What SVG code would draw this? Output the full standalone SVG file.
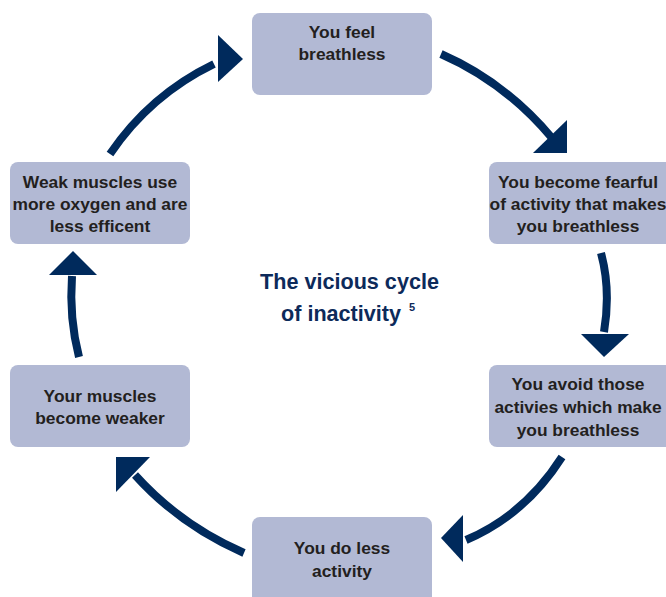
<svg xmlns="http://www.w3.org/2000/svg" width="666" height="597" viewBox="0 0 666 597">
<style>
.box{fill:#b2b9d4;}
.t{font-family:"Liberation Sans",Arial,sans-serif;font-weight:bold;font-size:17.4px;fill:#231f20;text-anchor:middle;}
.ttl{font-family:"Liberation Sans",Arial,sans-serif;font-weight:bold;font-size:21.6px;fill:#0d2a5a;text-anchor:middle;}
.c{fill:none;stroke:#002a5c;stroke-width:8;}
.h{fill:#002a5c;}
</style>
<rect width="666" height="597" fill="#ffffff"/>
<g id="connectors">
<path class="c" d="M110,154 Q150,95 214,64"/>
<polygon class="h" points="218,35 218,82 243,59"/>
<path class="c" d="M441,54 Q505,82 552,138"/>
<polygon class="h" points="567,120 567,153 533,153"/>
<path class="c" d="M601,253 Q611,290 604,332"/>
<polygon class="h" points="581,334 629,334 604,357"/>
<path class="c" d="M562,457 Q525,515 466,540"/>
<polygon class="h" points="463,515 463,562 441,538"/>
<path class="c" d="M244,553 Q180,525 135,475"/>
<polygon class="h" points="116,457 150,457 116,492"/>
<path class="c" d="M79,357 Q69,318 72,276"/>
<polygon class="h" points="49,275 97,275 73,251"/>
</g>
<g id="n1">
<rect class="box" x="252" y="13" width="180" height="82" rx="8"/>
<text class="t" x="342" y="38">You feel</text>
<text class="t" x="342" y="60">breathless</text>
</g>
<g id="n2">
<rect class="box" x="489" y="162" width="185" height="82" rx="8"/>
<text class="t" x="578" y="188">You become fearful</text>
<text class="t" x="578" y="210">of activity that makes</text>
<text class="t" x="578" y="232">you breathless</text>
</g>
<g id="n3">
<rect class="box" x="489" y="365" width="185" height="82" rx="8"/>
<text class="t" x="578" y="390">You avoid those</text>
<text class="t" x="578" y="413">activies which make</text>
<text class="t" x="578" y="436">you breathless</text>
</g>
<g id="n4">
<rect class="box" x="252" y="517" width="180" height="90" rx="8"/>
<text class="t" x="342" y="554">You do less</text>
<text class="t" x="342" y="577">activity</text>
</g>
<g id="n5">
<rect class="box" x="10" y="365" width="180" height="82" rx="8"/>
<text class="t" x="100" y="402">Your muscles</text>
<text class="t" x="100" y="424">become weaker</text>
</g>
<g id="n6">
<rect class="box" x="10" y="162" width="180" height="82" rx="8"/>
<text class="t" x="100" y="188">Weak muscles use</text>
<text class="t" x="100" y="210">more oxygen and are</text>
<text class="t" x="100" y="232">less efficent</text>
</g>
<g id="title">
<text class="ttl" x="349.5" y="289">The vicious cycle</text>
<text class="ttl" x="341" y="321">of inactivity</text>
<text x="409" y="311" font-family="Liberation Sans,Arial,sans-serif" font-weight="bold" font-size="11" fill="#0d2a5a">5</text>
</g>
</svg>
